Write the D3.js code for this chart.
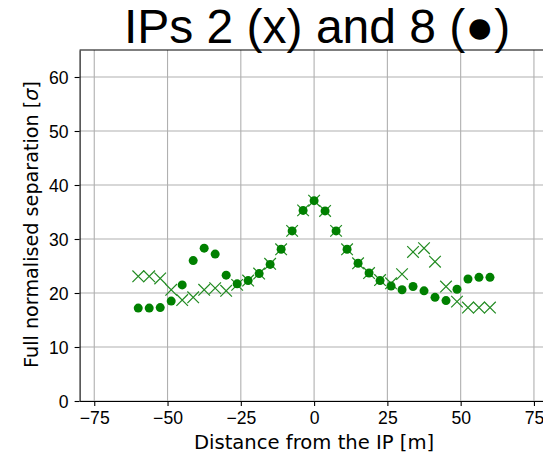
<!DOCTYPE html>
<html>
<head>
<meta charset="utf-8">
<script src="https://cdn.jsdelivr.net/npm/d3@7/dist/d3.min.js"></script>
<style>
  body { margin: 0; background: #fff; }
  svg { display: block; font-family: "DejaVu Sans", sans-serif; }
  .grid line { stroke: #b0b0b0; stroke-width: 1.1; }
  .axis text { font-size: 17.6px; fill: #000; }
  .axis path, .axis line { stroke: #000; stroke-width: 1.1; }
</style>
</head>
<body>
<svg id="chart" width="543" height="454"></svg>
<script>
// distances from the IP [m]
const dist = [-60, -56.25, -52.5, -48.75, -45, -41.25, -37.5, -33.75, -30, -26.25,
  -22.5, -18.75, -15, -11.25, -7.5, -3.75, 0, 3.75, 7.5, 11.25, 15, 18.75, 22.5,
  26.25, 30, 33.75, 37.5, 41.25, 45, 48.75, 52.5, 56.25, 60];

// IP 2 (x markers)
const ip2 = [23.1, 23.1, 22.7, 20.6, 18.7, 19.2, 20.6, 20.9, 20.4, 21.5,
  22.3, 23.6, 25.4, 28.1, 31.5, 35.3, 37.1, 35.2, 31.5, 28.1, 25.5, 23.7, 22.4,
  21.8, 23.5, 27.6, 28.3, 25.8, 21.2, 18.4, 17.3, 17.3, 17.3];

// IP 8 (filled circles)
const ip8 = [17.2, 17.2, 17.3, 18.5, 21.5, 26.0, 28.3, 27.2, 23.3, 21.7,
  22.3, 23.6, 25.3, 28.1, 31.5, 35.3, 37.1, 35.2, 31.5, 28.1, 25.5, 23.7, 22.3,
  21.3, 20.6, 21.2, 20.4, 19.2, 18.6, 20.7, 22.6, 22.9, 22.9];

const xTicks = [-75, -50, -25, 0, 25, 50, 75];
const yTicks = [0, 10, 20, 30, 40, 50, 60];

const svg = d3.select("#chart");
const m = { left: 79.6, top: 50, width: 469, height: 351 };

const x = d3.scaleLinear().domain([-80, 80]).range([0, m.width]);
const y = d3.scaleLinear().domain([0, 65]).range([m.height, 0]);

const g = svg.append("g").attr("transform", `translate(${m.left},${m.top})`);

// grid
const grid = g.append("g").attr("class", "grid");
grid.selectAll(".gx").data(xTicks).join("line")
  .attr("x1", d => x(d)).attr("x2", d => x(d))
  .attr("y1", 0).attr("y2", m.height);
grid.selectAll(".gy").data(yTicks).join("line")
  .attr("x1", 0).attr("x2", m.width)
  .attr("y1", d => y(d)).attr("y2", d => y(d));

// IP 2 crosses
const cs = 5.8;
const pts2 = dist.map((d, i) => [d, ip2[i]]);
g.append("g").selectAll("path").data(pts2).join("path")
  .attr("d", d => {
    const px = x(d[0]), py = y(d[1]);
    return `M${px - cs},${py - cs}L${px + cs},${py + cs}M${px - cs},${py + cs}L${px + cs},${py - cs}`;
  })
  .attr("stroke", "#228b22")
  .attr("stroke-width", 1.2)
  .attr("fill", "none");

// IP 8 circles
const pts8 = dist.map((d, i) => [d, ip8[i]]);
g.append("g").selectAll("circle").data(pts8).join("circle")
  .attr("cx", d => x(d[0]))
  .attr("cy", d => y(d[1]))
  .attr("r", 4.5)
  .attr("fill", "#008000");

// axes
const fmt = d => d < 0 ? "\u2212" + Math.abs(d) : String(d);
g.append("g").attr("class", "axis")
  .attr("transform", `translate(0,${m.height})`)
  .call(d3.axisBottom(x).tickValues(xTicks).tickSize(5).tickPadding(6).tickSizeOuter(0).tickFormat(fmt));
g.append("g").attr("class", "axis")
  .call(d3.axisLeft(y).tickValues(yTicks).tickSize(5).tickPadding(6).tickSizeOuter(0).tickFormat(fmt))
  .selectAll("text").attr("dy", "0.36em");

// top spine
g.append("line")
  .attr("x1", 0).attr("x2", m.width).attr("y1", 0).attr("y2", 0)
  .attr("stroke", "#000").attr("stroke-width", 1.1);

// titles
svg.append("text")
  .attr("x", m.left + m.width / 2 + 3)
  .attr("y", 43)
  .attr("text-anchor", "middle")
  .style("font-family", "'Liberation Sans', Arial, sans-serif")
  .style("font-size", "48px")
  .text("IPs 2 (x) and 8 (\u25CF)");

svg.append("text")
  .attr("x", m.left + m.width / 2)
  .attr("y", 449)
  .attr("text-anchor", "middle")
  .style("font-size", "19.6px")
  .text("Distance from the IP [m]");

const yl = svg.append("text")
  .attr("transform", `translate(38,${m.top + m.height / 2 - 1}) rotate(-90)`)
  .attr("text-anchor", "middle")
  .style("font-size", "19.2px");
yl.append("tspan").text("Full normalised separation [");
yl.append("tspan").style("font-style", "italic").text("\u03C3");
yl.append("tspan").text("]");
</script>
</body>
</html>
